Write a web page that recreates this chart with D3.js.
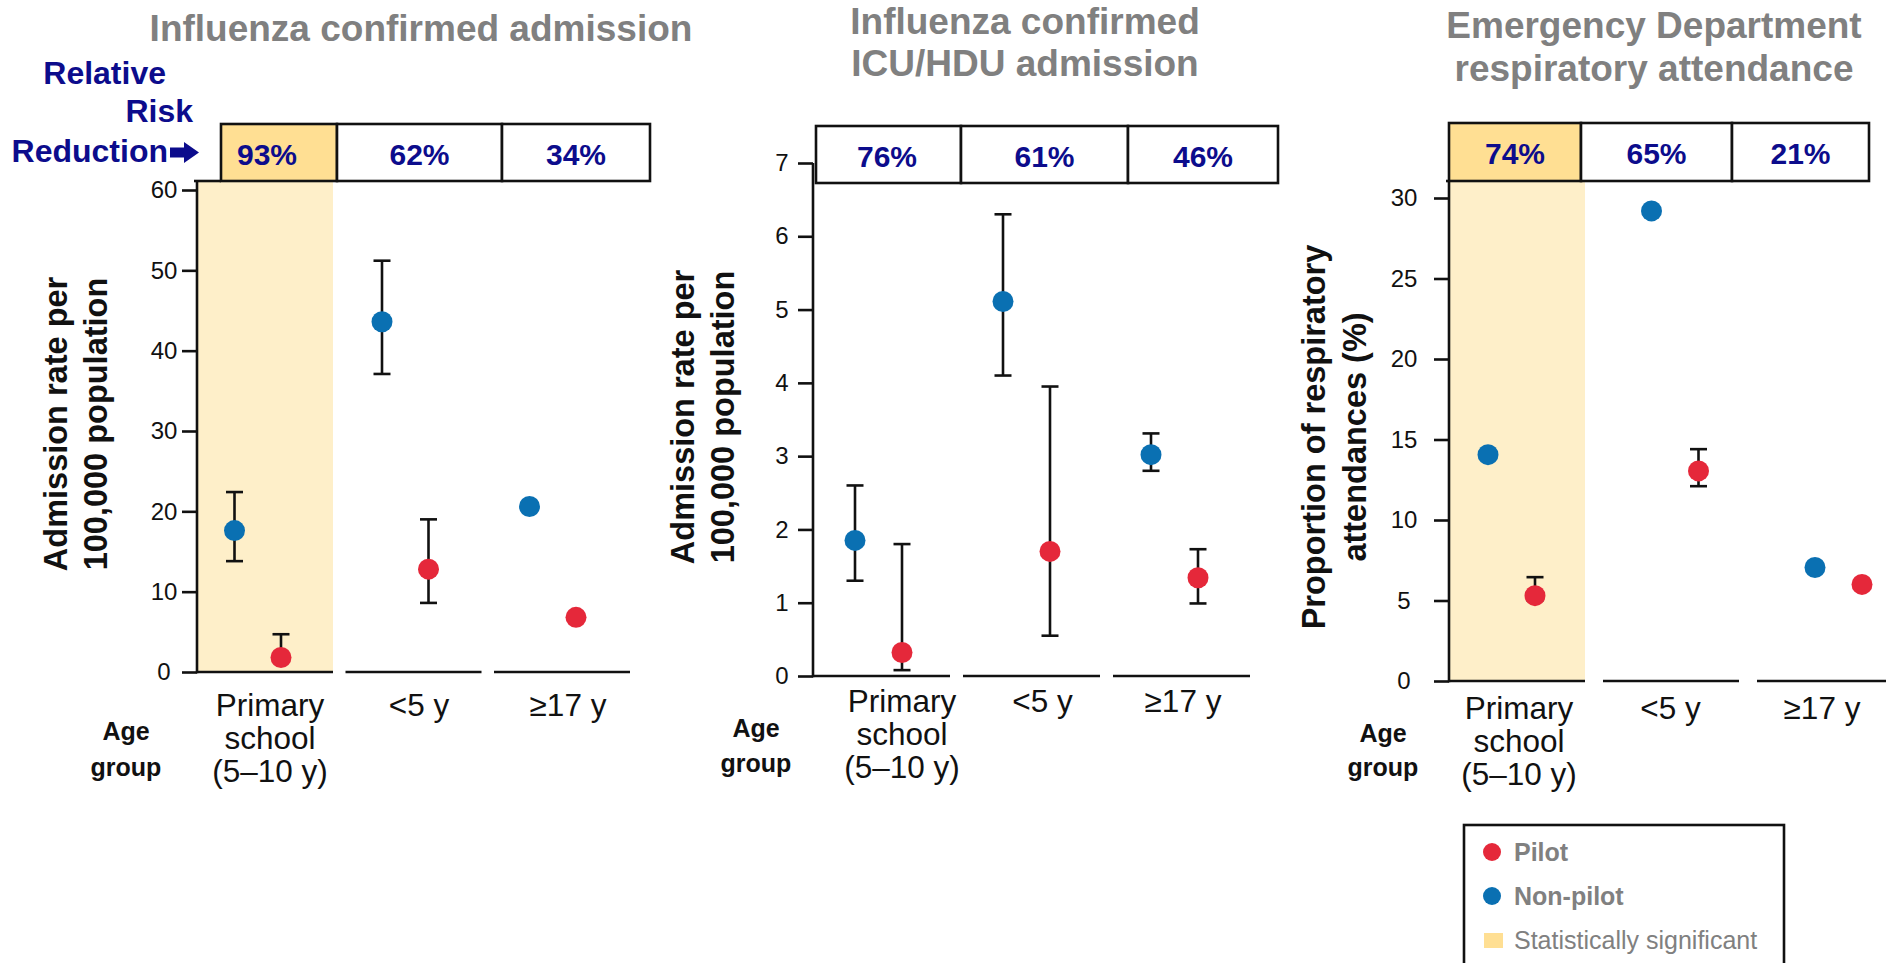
<!DOCTYPE html>
<html>
<head>
<meta charset="utf-8">
<script src="https://cdn.jsdelivr.net/npm/d3@7"></script>
<style>
body { margin: 0; background: #fff; }
svg { display: block; font-family: "Liberation Sans", Arial, sans-serif; }
</style>
</head>
<body>
<svg id="chart" width="1886" height="963"></svg>
<script>
// categories
var ageGroups = ["Primary school (5–10 y)", "<5 y", "≥17 y"]
var ageLabels = [["Primary", "school", "(5–10 y)"], ["<5 y"], ["≥17 y"]]
var seriesNames = ["Pilot", "Non-pilot"]

// influenza confirmed admission
var admTitle = ["Influenza confirmed admission"]
var admYLabel = ["Admission rate per", "100,000 population"]
var admTicks = [0, 10, 20, 30, 40, 50, 60]
var admRRR = ["93%", "62%", "34%"]
var admSig = [true, false, false]
var admPilot = [1.8, 12.8, 6.8]
var admPilotLo = [1.3, 8.6, null]
var admPilotHi = [4.7, 19.0, null]
var admNonPilot = [17.6, 43.6, 20.6]
var admNonPilotLo = [13.8, 37.1, null]
var admNonPilotHi = [22.4, 51.2, null]

// influenza confirmed ICU/HDU admission
var icuTitle = ["Influenza confirmed", "ICU/HDU admission"]
var icuYLabel = ["Admission rate per", "100,000 population"]
var icuTicks = [0, 1, 2, 3, 4, 5, 6, 7]
var icuRRR = ["76%", "61%", "46%"]
var icuSig = [false, false, false]
var icuPilot = [0.32, 1.70, 1.34]
var icuPilotLo = [0.08, 0.55, 0.99]
var icuPilotHi = [1.80, 3.95, 1.73]
var icuNonPilot = [1.85, 5.11, 3.02]
var icuNonPilotLo = [1.30, 4.10, 2.80]
var icuNonPilotHi = [2.60, 6.30, 3.31]

// emergency department respiratory attendance
var edTitle = ["Emergency Department", "respiratory attendance"]
var edYLabel = ["Proportion of respiratory", "attendances (%)"]
var edTicks = [0, 5, 10, 15, 20, 25, 30]
var edRRR = ["74%", "65%", "21%"]
var edSig = [true, false, false]
var edPilot = [5.3, 13.05, 6.0]
var edPilotLo = [5.0, 12.1, null]
var edPilotHi = [6.45, 14.4, null]
var edNonPilot = [14.06, 29.2, 7.05]
var edNonPilotLo = [null, null, null]
var edNonPilotHi = [null, null, null]

var red = '#E5283A'
var blue = '#0A70B2'
var navy = '#0C0C8C'
var grey = '#808080'
var sigLight = '#FEEFC9'
var sigCell = '#FFDF93'
var lw = 2.6

var svg = d3.select("#chart")

function series(vals, lo, hi) {
	return ageGroups.map(function(g, i) {
		return {'group': g, 'v': vals[i], 'lo': lo[i], 'hi': hi[i]}
	})
}

var panels = [
	{title: admTitle, ylab: admYLabel, ticks: admTicks, rrr: admRRR, sig: admSig,
	 pilot: series(admPilot, admPilotLo, admPilotHi), non: series(admNonPilot, admNonPilotLo, admNonPilotHi),
	 axisX: 197, y0: 672, yTop: 190, segStep: 148.5, segW: 136, dotX0: 234.5, dotStep: 147.5, pairGap: 46.5,
	 box: [221, 337, 502, 650], boxTop: 124, boxBottom: 181, axisToBox: true, pctY: 165, tickOff: 33,
	 titleX: 421, titleY: [41], ylabX: [67, 107], ylabY: 424,
	 catX: [270, 568], catY: 716, ageX: 126, ageY: [740, 776]},
	{title: icuTitle, ylab: icuYLabel, ticks: icuTicks, rrr: icuRRR, sig: icuSig,
	 pilot: series(icuPilot, icuPilotLo, icuPilotHi), non: series(icuNonPilot, icuNonPilotLo, icuNonPilotHi),
	 axisX: 813, y0: 676, yTop: 163, segStep: 150, segW: 137, dotX0: 855, dotStep: 148, pairGap: 47,
	 box: [816, 961, 1128, 1278], boxTop: 126, boxBottom: 183, axisToBox: false, pctY: 167, tickOff: 31,
	 titleX: 1025, titleY: [34, 76], ylabX: [694, 734], ylabY: 417,
	 catX: [902, 1183], catY: 712, ageX: 756, ageY: [737, 772]},
	{title: edTitle, ylab: edYLabel, ticks: edTicks, rrr: edRRR, sig: edSig,
	 pilot: series(edPilot, edPilotLo, edPilotHi), non: series(edNonPilot, edNonPilotLo, edNonPilotHi),
	 axisX: 1449, y0: 681, yTop: 198, segStep: 154, segW: 136, dotX0: 1488, dotStep: 163.5, pairGap: 47,
	 box: [1449, 1581, 1732, 1869], boxTop: 123, boxBottom: 181, axisToBox: true, pctY: 164, tickOff: 45,
	 titleX: 1654, titleY: [38, 81], ylabX: [1325, 1366], ylabY: 437,
	 catX: [1519, 1822], catY: 719, ageX: 1383, ageY: [742, 776]}
]

function drawPanel(p) {
	var g = svg.append('g')
	var tmax = d3.max(p.ticks)
	var y = d3.scaleLinear().domain([0, tmax]).range([p.y0, p.yTop])
	var seg = d3.scaleBand().domain(ageGroups)
		.range([p.axisX, p.axisX + 2 * p.segStep + p.segW])
		.paddingInner((p.segStep - p.segW) / p.segStep).paddingOuter(0)
	var xg = d3.scalePoint().domain(ageGroups).range([p.dotX0, p.dotX0 + 2 * p.dotStep])
	var xs = d3.scalePoint().domain(["Non-pilot", "Pilot"]).range([0, p.pairGap])
	var xc = d3.scalePoint().domain(ageGroups).range(p.catX)

	// significant shading in plot area
	ageGroups.forEach(function(a, i) {
		if (p.sig[i]) {
			g.append('rect').attr('x', seg(a)).attr('y', p.boxBottom)
				.attr('width', seg.bandwidth()).attr('height', p.y0 - p.boxBottom)
				.attr('fill', sigLight)
		}
	})

	// relative risk reduction boxes
	var edges = p.box
	ageGroups.forEach(function(a, i) {
		g.append('rect').attr('x', edges[i]).attr('y', p.boxTop)
			.attr('width', edges[i + 1] - edges[i]).attr('height', p.boxBottom - p.boxTop)
			.attr('fill', p.sig[i] ? sigCell : '#fff')
			.attr('stroke', '#111').attr('stroke-width', lw)
		var left = i == 0 ? Math.min(edges[0], p.axisX) : edges[i]
		g.append('text').attr('x', (left + edges[i + 1]) / 2).attr('y', p.pctY)
			.attr('text-anchor', 'middle').attr('font-size', 30).attr('font-weight', 'bold')
			.attr('fill', navy).text(p.rrr[i])
	})
	if (p.axisToBox) {
		g.append('line').attr('x1', p.axisX - 3).attr('x2', edges[0])
			.attr('y1', p.boxBottom).attr('y2', p.boxBottom)
			.attr('stroke', '#111').attr('stroke-width', lw)
	}

	// y axis, labels centred left of the ticks
	var ax = g.append('g').attr('transform', 'translate(' + p.axisX + ',0)')
		.call(d3.axisLeft(y).tickValues(p.ticks).tickSize(15).tickFormat(d3.format('d')))
	ax.select('.domain').remove()
	ax.selectAll('.tick line').attr('stroke', '#111').attr('stroke-width', lw)
	ax.selectAll('.tick text').attr('font-size', 24).attr('fill', '#111')
		.attr('font-family', '"Liberation Sans", Arial, sans-serif')
		.attr('text-anchor', 'middle').attr('x', -p.tickOff)
	var top = p.axisToBox ? p.boxBottom : y(tmax)
	g.append('line').attr('x1', p.axisX).attr('x2', p.axisX)
		.attr('y1', top).attr('y2', p.y0 + lw / 2)
		.attr('stroke', '#111').attr('stroke-width', lw)

	// baseline segments
	g.selectAll('.seg').data(ageGroups).enter().append('line')
		.attr('x1', function(d) { return seg(d) }).attr('x2', function(d) { return seg(d) + seg.bandwidth() })
		.attr('y1', p.y0).attr('y2', p.y0)
		.attr('stroke', '#111').attr('stroke-width', lw)

	// error bars then dots
	var all = p.non.map(function(d) { d.s = 'Non-pilot'; return d })
		.concat(p.pilot.map(function(d) { d.s = 'Pilot'; return d }))
	var cap = 8.5
	all.forEach(function(d) {
		if (d.lo === null) return
		var cx = xg(d.group) + xs(d.s)
		g.append('line').attr('x1', cx).attr('x2', cx).attr('y1', y(d.lo)).attr('y2', y(d.hi))
			.attr('stroke', '#111').attr('stroke-width', lw)
		;[d.lo, d.hi].forEach(function(v) {
			g.append('line').attr('x1', cx - cap).attr('x2', cx + cap).attr('y1', y(v)).attr('y2', y(v))
				.attr('stroke', '#111').attr('stroke-width', lw)
		})
	})
	g.selectAll('.dot').data(all).enter().append('circle')
		.attr('cx', function(d) { return xg(d.group) + xs(d.s) })
		.attr('cy', function(d) { return y(d.v) })
		.attr('r', 10.5)
		.attr('fill', function(d) { return d.s == 'Pilot' ? red : blue })

	// category labels
	ageGroups.forEach(function(a, i) {
		var t = g.append('text').attr('text-anchor', 'middle').attr('font-size', 31.5).attr('fill', '#111')
		ageLabels[i].forEach(function(line, j) {
			t.append('tspan').attr('x', xc(a)).attr('y', p.catY + j * 33).text(line)
		})
	})
	;["Age", "group"].forEach(function(w, j) {
		g.append('text').attr('x', p.ageX).attr('y', p.ageY[j]).attr('text-anchor', 'middle')
			.attr('font-size', 25).attr('font-weight', 'bold').attr('fill', '#111').text(w)
	})

	// titles
	p.title.forEach(function(line, j) {
		g.append('text').attr('x', p.titleX).attr('y', p.titleY[j]).attr('text-anchor', 'middle')
			.attr('font-size', 37).attr('font-weight', 'bold').attr('fill', grey).text(line)
	})
	p.ylab.forEach(function(line, j) {
		g.append('text').attr('transform', 'translate(' + p.ylabX[j] + ',' + p.ylabY + ') rotate(-90)')
			.attr('text-anchor', 'middle').attr('font-size', 32.5).attr('font-weight', 'bold')
			.attr('fill', '#111').text(line)
	})
}

panels.forEach(drawPanel)

// relative risk reduction label
var rrrLines = [["Relative", 166, 84], ["Risk", 193, 122], ["Reduction", 168, 162]]
rrrLines.forEach(function(l) {
	svg.append('text').attr('x', l[1]).attr('y', l[2]).attr('text-anchor', 'end')
		.attr('font-size', 32).attr('font-weight', 'bold').attr('fill', navy).text(l[0])
})
// heavy arrow after "Reduction"
svg.append('path')
	.attr('d', 'M170,147.5 L184,147.5 L184,142 L199,152.5 L184,163 L184,157.5 L170,157.5 Z')
	.attr('fill', navy)

// legend
var lg = svg.append('g')
lg.append('rect').attr('x', 1464).attr('y', 825).attr('width', 320).attr('height', 170)
	.attr('fill', '#fff').attr('stroke', '#111').attr('stroke-width', lw)
var legendItems = [
	{label: seriesNames[0], color: red, shape: 'dot', bold: true},
	{label: seriesNames[1], color: blue, shape: 'dot', bold: true},
	{label: 'Statistically significant', color: sigCell, shape: 'sq', bold: false}
]
legendItems.forEach(function(it, i) {
	var cy = 852 + i * 44
	if (it.shape == 'dot') {
		lg.append('circle').attr('cx', 1492).attr('cy', cy).attr('r', 9).attr('fill', it.color)
	} else {
		lg.append('rect').attr('x', 1484).attr('y', cy - 7).attr('width', 19).attr('height', 15).attr('fill', it.color)
	}
	lg.append('text').attr('x', 1514).attr('y', cy + 9).attr('font-size', 25)
		.attr('font-weight', it.bold ? 'bold' : 'normal').attr('fill', grey).text(it.label)
})
</script>
</body>
</html>
